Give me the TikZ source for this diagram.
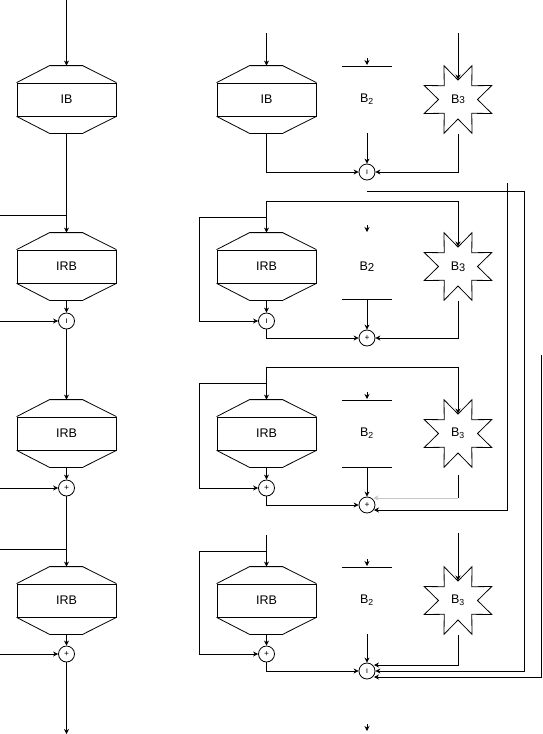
\documentclass[tikz,border=0pt]{standalone}
\usepackage{fontspec}
\setmainfont{Liberation Sans}
\usetikzlibrary{shapes.geometric,arrows.meta,calc}
\newcommand\hexblk[4]{%
  \node[blk] (#1) at (#2,#3) {#4};
  \draw[ln] (#1.north west) -- +(33,-17) -- +(66,-17) -- (#1.north east);
  \draw[ln] (#1.south west) -- +(33,17) -- +(66,17) -- (#1.south east);
  \coordinate (#1t) at ($(#1.north)+(0,-17)$);
  \coordinate (#1b) at ($(#1.south)+(0,17)$);
}
\begin{document}
\begin{tikzpicture}[x=1pt,y=-1pt,
  every node/.style={font=\fontsize{12.5}{14}\selectfont},
  ln/.style={line width=0.8pt},
  arr/.style={ln,-{Stealth[length=5pt,width=5pt]}},
  blk/.style={draw,line width=0.8pt,minimum width=99pt,minimum height=33pt,inner sep=0},
  sm/.style={draw,circle,line width=0.8pt,minimum size=16pt,inner sep=0,font=\fontsize{8.5}{9}\selectfont},
  st/.style={draw,star,star points=8,star point ratio=1.87,shape border rotate=22.5,minimum size=73pt,inner sep=0,line width=0.8pt},
  lbl/.style={inner sep=0}]
\useasboundingbox (0,0) rectangle (542,734);

% blocks
\hexblk{L1}{66.5}{99.5}{IB}
\hexblk{L2}{66.5}{266.5}{IRB}
\hexblk{L3}{66.5}{433.5}{IRB}
\hexblk{L4}{66.5}{600.5}{IRB}
\hexblk{M1}{266.5}{99.5}{IB}
\hexblk{M2}{266.5}{266.5}{IRB}
\hexblk{M3}{266.5}{433.5}{IRB}
\hexblk{M4}{266.5}{600.5}{IRB}

% sums
\node[sm] (sL2) at (66.5,321) {ı};
\node[sm] (sL3) at (66.5,488) {+};
\node[sm] (sL4) at (66.5,654) {+};
\node[sm] (sM2) at (266.5,321) {ı};
\node[sm] (sM3) at (266.5,488) {+};
\node[sm] (sM4) at (266.5,654) {+};
\node[sm] (sB1) at (367,172) {ı};
\node[sm] (sB2) at (367,338) {+};
\node[sm] (sB3) at (367,505) {+};
\node[sm] (sB4) at (367,671) {ı};

% stars
\node[st] (st1) at (458,99.5) {B{\fontsize{10}{12}\selectfont 3}};
\node[st] (st2) at (458,266.5) {B\raisebox{-1pt}{\fontsize{11}{12}\selectfont 3}};
\node[st] (st3) at (458,433.5) {B\textsubscript{3}};
\node[st] (st4) at (458,600.5) {B\textsubscript{3}};

% B2 labels
\node[lbl] (b1) at (367,99.5) {B\textsubscript{2}};
\node[lbl] (b2) at (367,266.5) {B\raisebox{-0.5pt}{\fontsize{11.5}{12}\selectfont 2}};
\node[lbl] (b3) at (367,433.5) {B\textsubscript{2}};
\node[lbl] (b4) at (367,600.5) {B\textsubscript{2}};

% ---------- left column
\coordinate (t0) at (66.5,0);
\draw[arr] (t0) -- (L1t);
\draw[arr] (L1b) -- (L2t);
\coordinate (f2) at (0,215);
\draw[ln] (f2) -- (f2 -| L1b);
\draw[arr] (L2b) -- (sL2);
\coordinate (f3) at (0,321);
\draw[arr] (f3) -- (sL2);
\draw[arr] (sL2) -- (L3t);
\draw[arr] (L3b) -- (sL3);
\coordinate (f4) at (0,488);
\draw[arr] (f4) -- (sL3);
\draw[arr] (sL3) -- (L4t);
\coordinate (f5) at (0,549);
\draw[ln] (f5) -- (f5 -| sL3);
\draw[arr] (L4b) -- (sL4);
\coordinate (f6) at (0,654);
\draw[arr] (f6) -- (sL4);
\coordinate (e0) at (66.5,734);
\draw[arr] (sL4) -- (e0);

% ---------- row 1 (middle/right)
\coordinate (m0) at (266.5,33);
\draw[arr] (m0) -- (M1t);
\draw[arr] (M1b) |- (sB1);
\draw[ln] (342,66) -- (392,66);
\draw[arr] (367,58) -- (367,65);
\coordinate (k1) at (367,133);
\draw[arr] (k1) -- (sB1);
\coordinate (s0) at (458,33);
\draw[arr] (s0) -- ($(st1.center)+(0,-20)$);
\coordinate (g1) at ($(st1.center)+(0,34)$);
\draw[arr] (g1) |- (sB1);

% ---------- row 2
\coordinate (c2) at (266.5,201);
\coordinate (c2s) at (458,201);
\draw[arr] (c2) -- (M2t);
\draw[arr] (c2) -- (c2s) -- ($(st2.center)+(0,-20)$);
\coordinate (l2a) at (266.5,217);
\coordinate (l2b) at (199,321);
\draw[arr] (l2a) -| (l2b) -- (sM2);
\draw[arr] (M2b) -- (sM2);
\draw[arr] (sM2) |- (sB2);
\draw[arr] (367,225) -- (367,232);
\draw[ln] (342,299) -- (392,299);
\coordinate (k2) at (367,299);
\draw[arr] (k2) -- (sB2);
\coordinate (g2) at ($(st2.center)+(0,34)$);
\draw[arr] (g2) |- (sB2);

% ---------- row 3
\coordinate (c3) at (266.5,367);
\coordinate (c3s) at (458,367);
\draw[arr] (c3) -- (M3t);
\draw[arr] (c3) -- (c3s) -- ($(st3.center)+(0,-20)$);
\coordinate (l3a) at (266.5,383);
\coordinate (l3b) at (199,488);
\draw[arr] (l3a) -| (l3b) -- (sM3);
\draw[arr] (M3b) -- (sM3);
\draw[arr] (sM3) |- (sB3);
\draw[ln] (342,400) -- (392,400);
\draw[arr] (367,392) -- (367,399);
\draw[ln] (342,467) -- (392,467);
\coordinate (k3) at (367,467);
\draw[arr] (k3) -- (sB3);
\coordinate (g3) at ($(st3.center)+(0,41)$);
\coordinate (q3) at (458,498);
\draw[ln] (g3) -- (q3);
\draw[arr,gray!45] (q3) -- ($(sB3.center)+(6.5,-7)$);

% ---------- row 4
\coordinate (c4) at (266.5,535);
\draw[arr] (c4) -- (M4t);
\coordinate (s4) at (458,533);
\draw[arr] (s4) -- ($(st4.center)+(0,-20)$);
\coordinate (l4a) at (266.5,551);
\coordinate (l4b) at (199,654);
\draw[arr] (l4a) -| (l4b) -- (sM4);
\draw[arr] (M4b) -- (sM4);
\draw[arr] (sM4) |- (sB4);
\draw[ln] (342,567) -- (392,567);
\draw[arr] (367,559) -- (367,566);
\coordinate (k4) at (367,634);
\draw[arr] (k4) -- (sB4);
\coordinate (g4) at ($(st4.center)+(0,34)$);
\coordinate (q4) at (458,665);
\draw[arr] (g4) -- (q4) -- ($(sB4.center)+(7,-6)$);
\coordinate (z0) at (367,724);
\draw[arr] (z0) -- (367,731);

% ---------- long right-hand lines
\coordinate (a0) at (367,191);
\coordinate (a1) at (524,671);
\draw[arr] (a0) -| (a1) -- (sB4);
\coordinate (bb0) at (507,183);
\coordinate (bb1) at (507,510);
\draw[arr] (bb0) -- (bb1) -- ($(sB3.center)+(7,5)$);
\coordinate (cc0) at (541,355);
\coordinate (cc1) at (541,677);
\draw[arr] (cc0) -- (cc1) -- ($(sB4.center)+(7,6)$);
\end{tikzpicture}
\end{document}
